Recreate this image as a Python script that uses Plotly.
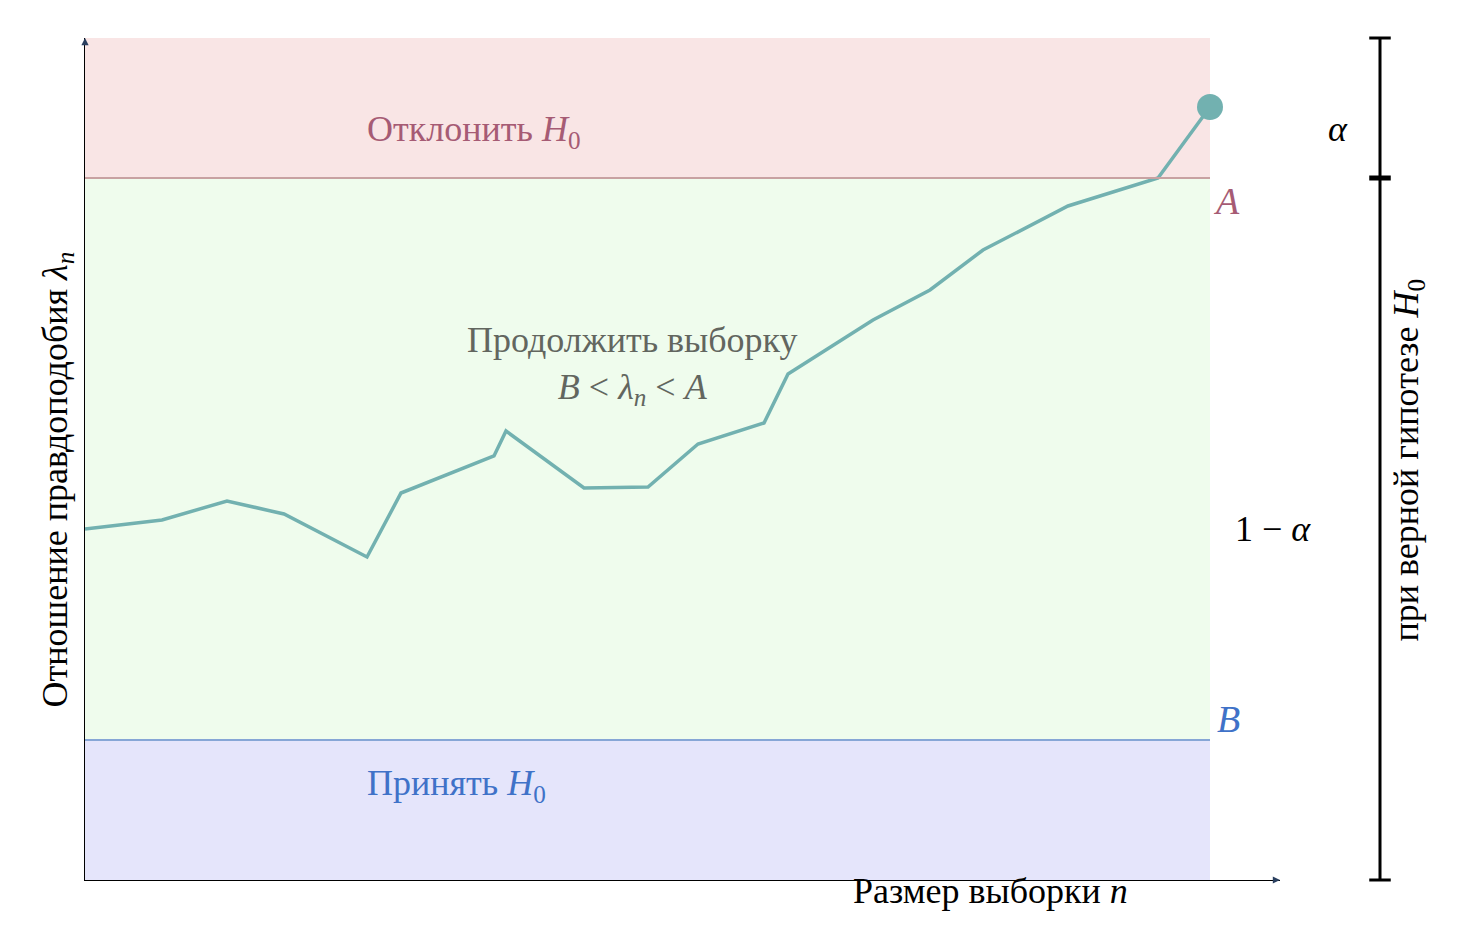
import plotly.graph_objects as go

# data in chart units (x: sample size scale, y: likelihood ratio scale)
n_vals = [0, 77, 142, 199, 282, 316, 409, 421, 499, 563, 613, 679, 703, 788, 845, 898, 983, 1073, 1125]
lam_vals = [351, 360, 379, 366, 323, 387, 424, 449, 392, 393, 436, 457, 506, 560, 590, 630, 674, 702, 773]
A_level = 702
B_level = 140
top = 842
x_end = 1125
x_max = 1195

serif = "Liberation Serif"
fig = go.Figure()
fig.add_trace(go.Scatter(x=n_vals, y=lam_vals, mode="lines", line=dict(color="#72b1b0", width=3.5), hoverinfo="skip", cliponaxis=False))
fig.add_trace(go.Scatter(x=[n_vals[-1]], y=[lam_vals[-1]], mode="markers", marker=dict(color="#72b1b0", size=26), hoverinfo="skip", cliponaxis=False))

shapes = [
    dict(type="rect", x0=0, x1=x_end, y0=A_level, y1=top, fillcolor="#f9e5e5", line_width=0, layer="below"),
    dict(type="rect", x0=0, x1=x_end, y0=B_level, y1=A_level, fillcolor="#effced", line_width=0, layer="below"),
    dict(type="rect", x0=0, x1=x_end, y0=0, y1=B_level, fillcolor="#e5e5fb", line_width=0, layer="below"),
    dict(type="line", x0=0, x1=x_end, y0=A_level, y1=A_level, line=dict(color="#c8a2a2", width=2)),
    dict(type="line", x0=0, x1=x_end, y0=B_level, y1=B_level, line=dict(color="#86a6d6", width=2)),
]
bx = 1295 / x_max
shapes.append(dict(type="line", xref="paper", yref="paper", x0=bx, x1=bx, y0=0, y1=1, line=dict(color="black", width=3)))
for yy in [0, A_level / top, 1]:
    mid = yy == A_level / top
    w = 0.009
    shapes.append(dict(type="line", xref="paper", yref="paper", x0=bx - w, x1=bx + w, y0=yy, y1=yy,
                       line=dict(color="black", width=5 if mid else 3)))

def P(x, y, **kw):
    d = dict(x=x / x_max, y=y / top, xref="paper", yref="paper", showarrow=False)
    d.update(kw)
    return d

ann = [
    P(280, 773, text="Отклонить <i>H</i><sub>0</sub>", font=dict(color="#a65b74", size=36)),
    P(380, 562, text="Продолжить выборку<br><i>B</i> &lt; <i>λ</i><sub><i>n</i></sub> &lt; <i>A</i>", font=dict(color="#62665f", size=36)),
    P(280, 70, text="Принять <i>H</i><sub>0</sub>", font=dict(color="#3f72c8", size=36)),
    P(x_end + 32, A_level, text="<i>A</i>", font=dict(color="#a65b74", size=38)),
    P(x_end + 32, B_level - 2, text="<i>B</i>", font=dict(color="#3f72c8", size=38)),
    P(1265, 773, text="<i>α</i>", font=dict(color="black", size=36)),
    P(1228, 351, text="1 − <i>α</i>", font=dict(color="black", size=36)),
    P(1045, -33, text="Размер выборки <i>n</i>", font=dict(color="black", size=36)),
    P(-53, 400, text="Отношение правдоподобия <i>λ</i><sub><i>n</i></sub>", textangle=-90, font=dict(color="black", size=36)),
    P(1347, 420, text="при верной гипотезе <i>H</i><sub>0</sub>", textangle=-90, font=dict(color="black", size=36)),
]
# axis arrows
ann.append(dict(x=x_max, y=0, ax=x_max - 5, ay=0, axref="x", ayref="y", showarrow=True, arrowhead=2, arrowsize=1.2, arrowwidth=1.2, text=""))
ann.append(dict(x=0, y=top, ax=0, ay=top - 5, axref="x", ayref="y", showarrow=True, arrowhead=2, arrowsize=1.2, arrowwidth=1.2, text=""))

fig.update_layout(
    width=1466, height=948, margin=dict(l=77, r=194, t=30, b=76),
    plot_bgcolor="white", paper_bgcolor="white", showlegend=False,
    font=dict(family=serif), shapes=shapes, annotations=ann,
    xaxis=dict(range=[0, x_max], showgrid=False, zeroline=False, showticklabels=False, showline=True, linecolor="black", linewidth=1.2),
    yaxis=dict(range=[0, top], showgrid=False, zeroline=False, showticklabels=False, showline=True, linecolor="black", linewidth=1.2),
)
fig.write_html("out.html")
